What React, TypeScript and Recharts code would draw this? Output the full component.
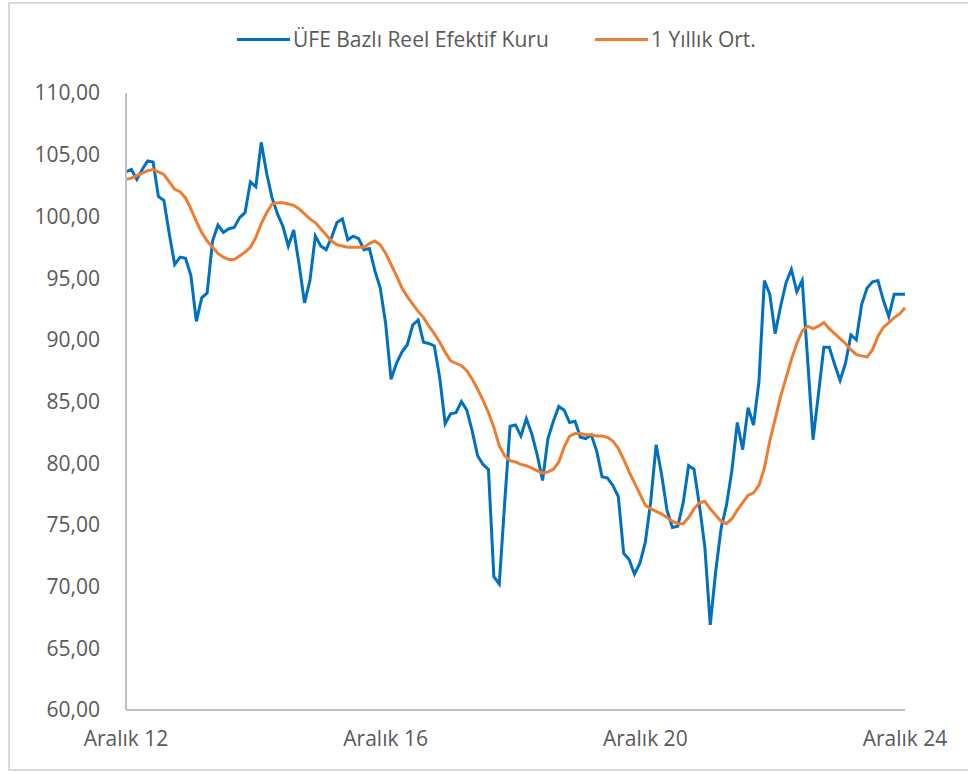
import { LineChart, Line, XAxis, YAxis } from 'recharts';

// ÜFE bazlı reel efektif kur, aylık (Aralık 2012 - Aralık 2024)
const ufeReel = [
  103.6, 103.8, 103.0, 103.8, 104.5, 104.4, 101.6, 101.3, 98.6, 96.1, 96.7, 96.6,
  95.2, 91.5, 93.4, 93.8, 98.0, 99.3, 98.7, 99.0, 99.1, 99.9, 100.3, 102.8,
  102.4, 106.0, 103.5, 101.5, 100.2, 99.2, 97.6, 98.9, 96.1, 93.0, 94.8, 98.4,
  97.6, 97.3, 98.3, 99.5, 99.8, 98.1, 98.4, 98.2, 97.3, 97.4, 95.6, 94.2,
  91.3, 86.8, 88.1, 89.0, 89.6, 91.2, 91.6, 89.8, 89.7, 89.5, 86.9, 83.2,
  84.0, 84.1, 85.0, 84.3, 82.6, 80.6, 79.9, 79.5, 70.8, 70.2, 76.8, 83.0,
  83.1, 82.2, 83.6, 82.4, 80.7, 78.6, 82.0, 83.4, 84.6, 84.3, 83.3, 83.4,
  82.1, 82.0, 82.3, 81.0, 78.9, 78.8, 78.2, 77.3, 72.7, 72.2, 71.0, 71.9,
  73.6, 76.9, 81.5, 79.1, 76.2, 74.8, 74.9, 76.8, 79.8, 79.5, 76.6, 73.2,
  66.9, 71.2, 74.7, 76.6, 79.4, 83.3, 81.1, 84.5, 83.1, 86.6, 94.8, 93.7,
  90.5, 92.7, 94.6, 95.7, 93.9, 94.8, 88.4, 81.9, 85.6, 89.4, 89.4, 88.0,
  86.7, 88.1, 90.4, 90.0, 92.9, 94.2, 94.7, 94.8, 93.2, 91.9, 93.7, 93.7,
  93.7,
];

// 1 yıllık ortalama
const yillikOrt = [
  103.0, 103.1, 103.3, 103.5, 103.7, 103.8, 103.6, 103.4, 102.8, 102.2, 102.0, 101.5,
  100.6, 99.6, 98.7, 98.0, 97.5, 97.0, 96.7, 96.5, 96.5, 96.8, 97.1, 97.5,
  98.3, 99.4, 100.3, 101.0, 101.1, 101.1, 101.0, 100.9, 100.6, 100.2, 99.8, 99.5,
  99.0, 98.5, 98.0, 97.7, 97.6, 97.5, 97.5, 97.5, 97.5, 97.8, 98.0, 97.7,
  97.0, 96.1, 95.2, 94.2, 93.5, 92.9, 92.3, 91.8, 91.1, 90.5, 89.8, 89.0,
  88.3, 88.1, 87.9, 87.5, 86.8, 86.0, 85.1, 84.1, 82.9, 81.4, 80.6, 80.2,
  80.1, 79.9, 79.8, 79.6, 79.4, 79.2, 79.3, 79.5, 80.1, 81.3, 82.2, 82.4,
  82.4, 82.3, 82.3, 82.2, 82.2, 82.1, 81.8, 81.2, 80.3, 79.3, 78.4, 77.5,
  76.6, 76.3, 76.1, 75.9, 75.6, 75.3, 75.1, 75.1, 75.6, 76.3, 76.8, 76.9,
  76.3, 75.8, 75.3, 75.1, 75.5, 76.2, 76.8, 77.4, 77.6, 78.2, 79.6, 81.8,
  83.6, 85.4, 86.9, 88.4, 89.7, 90.7, 91.1, 90.9, 91.1, 91.4, 90.9, 90.5,
  90.1, 89.7, 89.2, 88.8, 88.7, 88.6, 89.2, 90.3, 91.0, 91.4, 91.8, 92.1,
  92.6,
];

const yTicks = [60, 65, 70, 75, 80, 85, 90, 95, 100, 105, 110];
const xTicks = ['2012-12', '2016-12', '2020-12', '2024-12'];

const months: string[] = [];
for (let y = 2012; y <= 2024; y++) {
  for (let m = 1; m <= 12; m++) {
    if (y === 2012 && m < 12) continue;
    months.push(`${y}-${String(m).padStart(2, '0')}`);
  }
}

const data = months.map((month, i) => ({
  month,
  ufe: ufeReel[i],
  ort: yillikOrt[i],
}));

const FONT = "'Open Sans', sans-serif";
const TEXT = '#595959';
const BLUE = '#0070C0';
const ORANGE = '#ED7D31';

const fmtY = (v: number) => v.toFixed(2).replace('.', ',');
const fmtX = (m: string) => `Aralık ${m.slice(2, 4)}`;

function LegendItem({ left, color, label }: { left: number; color: string; label: string }) {
  return (
    <div style={{ position: 'absolute', left, top: 25, display: 'flex', alignItems: 'center', height: 28 }}>
      <div style={{ width: 53, height: 3, background: color, marginRight: 3 }} />
      <span style={{ fontFamily: FONT, fontSize: 21, color: TEXT, whiteSpace: 'nowrap' }}>{label}</span>
    </div>
  );
}

export default function App() {
  return (
    <div style={{ position: 'absolute', left: 0, top: 0, width: 968, height: 772, background: '#fff', overflow: 'hidden' }}>
      <div
        style={{
          position: 'absolute',
          left: 8,
          top: 2,
          width: 970,
          height: 765,
          border: '2px solid #d9d9d9',
        }}
      />
      <LegendItem left={237} color={BLUE} label="ÜFE Bazlı Reel Efektif Kuru" />
      <LegendItem left={595} color={ORANGE} label="1 Yıllık Ort." />
      <div style={{ position: 'absolute', left: 0, top: 0 }}>
        <LineChart width={968} height={772} data={data} margin={{ top: 93, right: 63, bottom: 32, left: 0 }}>
          <XAxis
            dataKey="month"
            ticks={xTicks}
            interval={0}
            tickFormatter={fmtX}
            tickLine={false}
            axisLine={{ stroke: '#bfbfbf', strokeWidth: 2 }}
            tick={{ fill: TEXT, fontSize: 21, fontFamily: FONT }}
            tickMargin={15}
            height={30}
          />
          <YAxis
            domain={[60, 110]}
            ticks={yTicks}
            interval={0}
            tickFormatter={fmtY}
            tickLine={false}
            axisLine={{ stroke: '#bfbfbf', strokeWidth: 2 }}
            tick={{ fill: TEXT, fontSize: 21, fontFamily: FONT }}
            tickMargin={20}
            width={126}
          />
          <Line
            type="linear"
            dataKey="ufe"
            name="ÜFE Bazlı Reel Efektif Kuru"
            stroke={BLUE}
            strokeWidth={3}
            dot={false}
            isAnimationActive={false}
          />
          <Line
            type="linear"
            dataKey="ort"
            name="1 Yıllık Ort."
            stroke={ORANGE}
            strokeWidth={3}
            dot={false}
            isAnimationActive={false}
          />
        </LineChart>
      </div>
    </div>
  );
}
